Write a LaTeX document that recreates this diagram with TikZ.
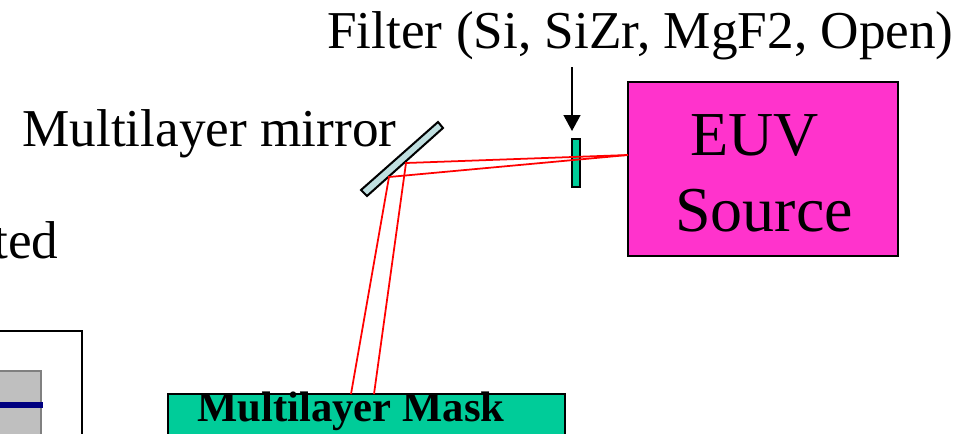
\documentclass[tikz,border=0pt]{standalone}
\usepackage{fontspec}
\setmainfont{Liberation Serif}
\usetikzlibrary{arrows.meta}

\definecolor{maskgreen}{HTML}{00CC99}
\definecolor{sourcepink}{HTML}{FF33CC}
\definecolor{mirrorblue}{HTML}{BFDFE0}

\tikzset{
  txt/.style={anchor=base west,inner sep=0pt,text=black},
  ray/.style={draw=red,line width=1pt},
  part/.style={draw=black,line width=1.15pt,anchor=north west,inner sep=0pt,outer sep=0pt}
}

\begin{document}
\begin{tikzpicture}[x=0.02cm,y=-0.02cm]

          \useasboundingbox (0,0) rectangle (973,433);
          \clip (0,0) rectangle (973,433);

          % holder, cut by the page
          \draw[line width=0.6pt] (-20,331) -- (82,331) -- (82,450);
          \draw[draw=gray,fill=black!25,line width=1pt] (-20,371) rectangle (41,450);
          \draw[draw=blue!50!black,line width=3.2pt] (-20,405) -- (43,405);

          % mask, source, filter, mirror
          \node[part,fill=maskgreen,minimum width=397*0.02cm,minimum height=60*0.02cm] (mask) at (168,394) {};
          \node[part,fill=sourcepink,minimum width=270*0.02cm,minimum height=174*0.02cm] (source) at (628,82) {};
          \node[part,fill=maskgreen,minimum width=8*0.02cm,minimum height=48*0.02cm] (filter) at (572,139) {};
          \draw[part,fill=mirrorblue] (438,122) -- (443,128) -- (367,196) -- (361,190) -- cycle;

          \coordinate (srcpt) at (628,155);
          \coordinate (mirA) at (406,163);
          \coordinate (mirB) at (389,177);
          \coordinate (maskA) at (374,394);
          \coordinate (maskB) at (351,394);
          \coordinate (arrowtop) at (572,67);
          \coordinate (arrowend) at (572,131);

          \draw[ray] (srcpt)--(mirA)--(maskA);
          \draw[ray] (srcpt)--(mirB)--(maskB);

          \draw[-{Triangle[length=9pt,width=9.5pt]},line width=1pt] (arrowtop)--(arrowend);

          \node[txt,font=\fontsize{30.3}{30.3}\selectfont] (filtertext) at (327,48.5) {Filter (Si, SiZr, MgF2, Open)};
          \node[txt,font=\fontsize{30.3}{30.3}\selectfont] (mirrortext) at (22,146.5) {Multilayer mirror};
          \node[txt,font=\fontsize{30.3}{30.3}\selectfont] (cuttext) at (-7,258) {ted};
          \node[txt,font=\fontsize{35.6}{35.6}\selectfont] (euv) at (690,155) {EUV};
          \node[txt,font=\fontsize{36.4}{36.4}\selectfont] (srctext) at (675,231) {Source};
          \node[txt,font=\bfseries\fontsize{24.3}{24.3}\selectfont] (masktext) at (197,421) {Multilayer Mask};

        \end{tikzpicture}
\end{document}
